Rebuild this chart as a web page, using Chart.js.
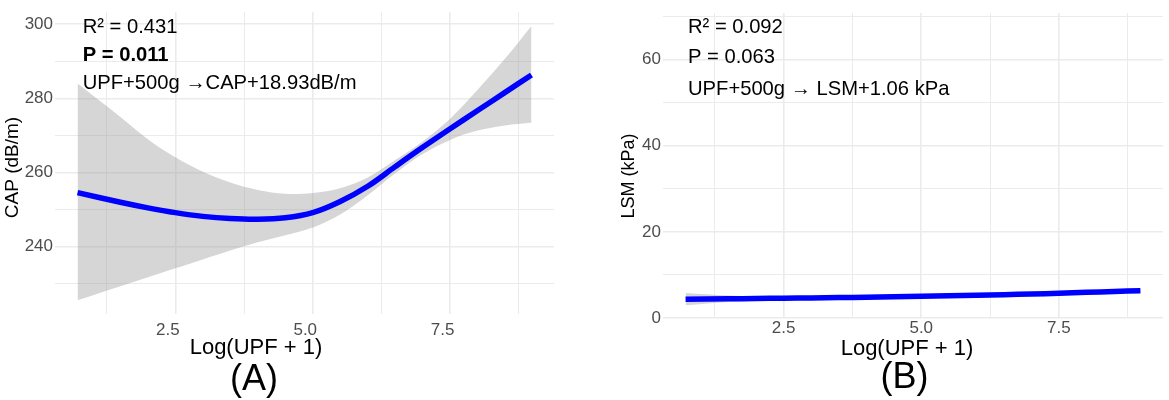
<!DOCTYPE html>
<html>
<head>
<meta charset="utf-8">
<script src="https://cdn.jsdelivr.net/npm/chart.js@4.4.1/dist/chart.umd.min.js"></script>
<style>
  html, body { margin: 0; padding: 0; background: #fff; }
  body { width: 1169px; height: 400px; position: relative; overflow: hidden; }
  .panel { position: absolute; top: 0; height: 400px; }
  #panelA { left: 0; width: 580px; }
  #panelB { left: 580px; width: 589px; }
</style>
</head>
<body>
<div class="panel" id="panelA"><canvas id="capChart" width="580" height="400"></canvas></div>
<div class="panel" id="panelB"><canvas id="lsmChart" width="589" height="400"></canvas></div>
<script>
// x positions of the fitted curves, Log(UPF + 1)
const logUpf = [0.72, 1.5, 2.0, 2.5, 3.0, 3.5, 4.0, 4.5, 5.0, 5.5, 6.0, 6.5, 7.0, 7.5, 8.0, 8.5, 8.98];

// (A) CAP fit and confidence band
const capFit   = [254.6, 252.0, 250.5, 249.2, 248.2, 247.6, 247.4, 247.8, 249.2, 252.2, 256.3, 261.6, 266.8, 271.8, 276.7, 281.6, 286.3];
const capUpper = [284.0, 275.0, 269.0, 264.1, 260.2, 257.3, 255.3, 254.3, 254.5, 255.8, 258.7, 263.4, 268.4, 274.5, 282.3, 290.7, 299.5];
const capLower = [225.6, 229.4, 231.8, 234.2, 236.6, 239.0, 241.2, 243.1, 245.2, 248.7, 253.9, 259.8, 265.0, 268.8, 271.3, 272.7, 273.4];

// (B) LSM fit and confidence band
const lsmFit   = [4.35, 4.45, 4.52, 4.6, 4.67, 4.74, 4.82, 4.93, 5.03, 5.14, 5.27, 5.41, 5.57, 5.75, 5.95, 6.15, 6.35];
const lsmUpper = [5.8, 5.2, 5.0, 4.95, 4.98, 5.04, 5.1, 5.2, 5.3, 5.4, 5.5, 5.65, 5.82, 6.02, 6.25, 6.5, 6.75];
const lsmLower = [2.95, 3.7, 4.0, 4.25, 4.35, 4.45, 4.55, 4.66, 4.76, 4.88, 5.04, 5.17, 5.32, 5.48, 5.65, 5.8, 5.95];

// tick positions (major + minor grid) and labelled ones
const xTicks = [1.25, 2.5, 3.75, 5.0, 6.25, 7.5, 8.75];
const xLabels = [2.5, 5.0, 7.5];
const capTicks = [230, 240, 250, 260, 270, 280, 290, 300];
const capLabels = [240, 260, 280, 300];
const lsmTicks = [0, 10, 20, 30, 40, 50, 60, 70];
const lsmLabels = [0, 20, 40, 60];

const FONT = "'Liberation Sans', Arial, Helvetica, sans-serif";
Chart.defaults.font.family = FONT;

const pts = ys => logUpf.map((x, i) => ({ x: x, y: ys[i] }));

// draws the stats text, axis titles and panel letter
const textPlugin = {
    id: 'panelText',
    afterDraw(chart) {
        const o = chart.options.plugins.panelText;
        const c = chart.ctx;
        c.save();
        c.fillStyle = '#000';
        c.textAlign = 'left';
        c.textBaseline = 'alphabetic';
        o.notes.forEach((n, i) => {
            c.font = (n.bold ? 'bold ' : '') + '20.2px ' + FONT;
            c.fillText(n.text, o.noteX, o.noteY[i]);
        });
        c.textAlign = 'center';
        c.textBaseline = 'middle';
        c.font = '22px ' + FONT;
        c.fillText('Log(UPF + 1)', o.xTitle[0], o.xTitle[1]);
        c.font = '36px ' + FONT;
        c.fillText(o.letter, o.letterPos[0], o.letterPos[1]);
        c.translate(o.yTitle[0], o.yTitle[1]);
        c.rotate(-Math.PI / 2);
        c.font = o.yTitleSize + 'px ' + FONT;
        c.fillText(o.yTitleText, 0, 0);
        c.restore();
    }
};

function makeChart(id, cfg) {
    return new Chart(document.getElementById(id), {
        type: 'line',
        data: {
            datasets: [
                { data: pts(cfg.upper), order: 2, borderWidth: 0, pointRadius: 0, fill: '+1',
                  backgroundColor: 'rgba(153,153,153,0.4)', tension: 0.35 },
                { data: pts(cfg.lower), order: 3, borderWidth: 0, pointRadius: 0, fill: false,
                  tension: 0.35 },
                { data: pts(cfg.fit), order: 0, borderColor: '#0000ff', borderWidth: 5.5, pointRadius: 0,
                  fill: false, tension: 0.35, borderCapStyle: 'butt' }
            ]
        },
        options: {
            responsive: false,
            animation: false,
            events: [],
            layout: { padding: { top: cfg.padTop, right: cfg.padRight, left: 0, bottom: 0 } },
            plugins: {
                legend: { display: false },
                tooltip: { enabled: false },
                panelText: cfg.text
            },
            scales: {
                x: {
                    type: 'linear',
                    min: 0.31,
                    max: 9.39,
                    afterBuildTicks: s => { s.ticks = xTicks.map(v => ({ value: v })); },
                    afterFit: s => { s.height = cfg.xAxisHeight; },
                    border: { display: false },
                    grid: {
                        drawTicks: false,
                        color: '#ebebeb',
                        lineWidth: ctx => xLabels.includes(ctx.tick && ctx.tick.value) ? 1.6 : 1
                    },
                    ticks: {
                        autoSkip: false,
                        maxRotation: 0,
                        padding: cfg.xPad,
                        labelOffset: cfg.xLabelOffset,
                        color: '#4d4d4d',
                        font: { size: 17 },
                        callback: v => xLabels.includes(v) ? v.toFixed(1) : ''
                    }
                },
                y: {
                    min: cfg.yMin,
                    max: cfg.yMax,
                    afterBuildTicks: s => { s.ticks = cfg.yTicks.map(v => ({ value: v })); },
                    afterFit: s => { s.width = cfg.yAxisWidth; },
                    border: { display: false },
                    grid: {
                        drawTicks: false,
                        color: '#ebebeb',
                        lineWidth: ctx => cfg.yLabels.includes(ctx.tick && ctx.tick.value) ? 1.6 : 1
                    },
                    ticks: {
                        autoSkip: false,
                        padding: 2,
                        color: '#4d4d4d',
                        font: { size: 17 },
                        callback: v => cfg.yLabels.includes(v) ? String(v) : ''
                    }
                }
            }
        },
        plugins: [textPlugin]
    });
}

makeChart('capChart', {
    fit: capFit, upper: capUpper, lower: capLower,
    yMin: 221.9, yMax: 303.2, yTicks: capTicks, yLabels: capLabels,
    padTop: 5, padRight: 26, yAxisWidth: 55, xAxisHeight: 86,
    xPad: 6, xLabelOffset: -7.5,
    text: {
        notes: [
            { text: 'R\u00b2 = 0.431' },
            { text: 'P = 0.011', bold: true },
            { text: 'UPF+500g \u2192CAP+18.93dB/m' }
        ],
        noteX: 82.7, noteY: [33.3, 60.7, 89.3],
        xTitle: [256, 348], letter: '(A)', letterPos: [254, 380],
        yTitle: [13, 167.5], yTitleText: 'CAP (dB/m)', yTitleSize: 19
    }
});

makeChart('lsmChart', {
    fit: lsmFit, upper: lsmUpper, lower: lsmLower,
    yMin: 0, yMax: 70.8, yTicks: lsmTicks, yLabels: lsmLabels,
    padTop: 13, padRight: 6, yAxisWidth: 83, xAxisHeight: 82,
    xPad: 0, xLabelOffset: 0,
    text: {
        notes: [
            { text: 'R\u00b2 = 0.092' },
            { text: 'P = 0.063' },
            { text: 'UPF+500g \u2192 LSM+1.06 kPa' }
        ],
        noteX: 108, noteY: [33.3, 63.3, 94.5],
        xTitle: [327, 348.5], letter: '(B)', letterPos: [324.5, 378],
        yTitle: [49, 176], yTitleText: 'LSM (kPa)', yTitleSize: 18
    }
});
</script>
</body>
</html>
